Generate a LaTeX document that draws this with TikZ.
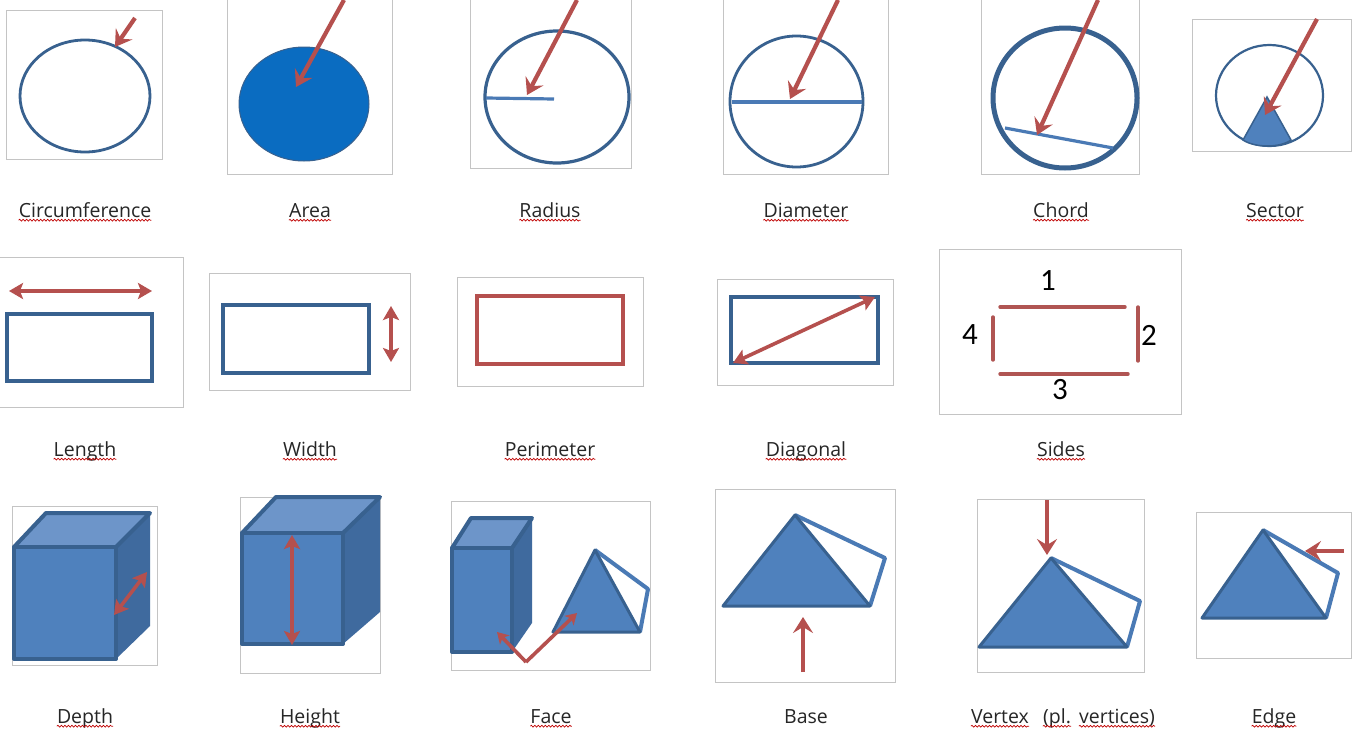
\documentclass[tikz,border=0pt]{standalone}
\usepackage{fontspec}
\newfontfamily\termfont{Open Sans}
\newfontfamily\digitfont{Carlito}
\usepackage{tikz}
\usetikzlibrary{arrows.meta,decorations.pathmorphing}
\definecolor{ringblue}{HTML}{38618F}
\definecolor{solidblue}{HTML}{4F81BD}
\definecolor{topblue}{HTML}{6D95C9}
\definecolor{sideblue}{HTML}{3F6A9E}
\definecolor{edgeblue}{HTML}{4A7AB5}
\definecolor{areablue}{HTML}{0A6CC1}
\definecolor{arrowred}{HTML}{B5504E}
\definecolor{framegray}{HTML}{C4C4C4}
\tikzset{
    framebox/.style={draw=framegray, line width=1pt},
    ring/.style={draw=ringblue, line width=2.8pt},
    plate/.style={draw=ringblue, line width=3.8pt},
    sideline/.style={draw=arrowred!90!gray, line width=3.4pt},
    pointer/.style={draw=arrowred, line width=4.2pt, -{Stealth[length=16pt,width=20pt,inset=6pt]}},
    twoway/.style={draw=arrowred, line width=3.6pt, {Stealth[length=14pt,width=16pt,inset=3pt]}-{Stealth[length=14pt,width=16pt,inset=3pt]}},
    smallway/.style={draw=arrowred, line width=3.6pt, -{Stealth[length=11pt,width=13pt,inset=3pt]}},
    term/.style={font=\termfont\fontsize{19.5}{22}\selectfont, text=black!85, inner sep=0pt, anchor=base, text depth=0pt},
    digit/.style={font=\digitfont\fontsize{31}{34}\selectfont, inner sep=0pt},
    squiggle/.style={draw=red!75!black, line width=0.7pt, decorate, decoration={snake,amplitude=0.9pt,segment length=3.5pt}}
}

\begin{document}
\begin{tikzpicture}[x=1pt, y=-1pt, >=Stealth]
\clip (0,0) rectangle (1356,731);
\fill[white] (0,0) rectangle (1356,731);

% Frames
\foreach \xa/\ya/\xb/\yb in {6/10/162/159, 227/-5/392/174, 470/-5/631/168, 723/-5/888/174, 981/-5/1139/174, 1192/19/1351/151,
    -5/257/183/407, 209/273/410/390, 457/277/643/386, 717/279/893/385, 939/249/1181/414,
    12/506/157/665, 240/497/380/673, 451/501/650/670, 715/489/895/682, 977/499/1144/672, 1196/512/1351/658}
    \draw[framebox] (\xa,\ya) rectangle (\xb,\yb);

% Circles
\draw[ring] (85,96) ellipse [x radius=65, y radius=56];
\draw[draw=ringblue, fill=areablue, line width=1pt] (304,104) ellipse [x radius=65, y radius=57];
\draw[ring, line width=3.2pt] (557,97) ellipse [x radius=72, y radius=66];
\draw[ring] (796.5,101.5) ellipse [x radius=66.5, y radius=65.5];
\draw[ring, line width=5pt] (1065,98) ellipse [x radius=72, y radius=70];
\draw[ring, line width=2.2pt] (1269.5,95.5) ellipse [x radius=53.5, y radius=50.5];
\draw[edgeblue, line width=3.2pt] (486,98) -- (554,99);
\draw[edgeblue, line width=3.2pt] (732,102) -- (862,102);
\draw[edgeblue, line width=3.2pt] (1005,128) -- (1113,148);
\draw[draw=ringblue, fill=solidblue, line width=1.5pt] (1267,97) -- (1243,140) .. controls (1255,148) and (1280,148) .. (1291,140) -- cycle;

% Rectangles
\draw[plate] (7,314) rectangle (152,381);
\draw[plate] (223,305) rectangle (369,373);
\draw[plate, draw=arrowred] (477,296) rectangle (623,364);
\draw[plate] (731,297) rectangle (878,363);

% Sides
\draw[sideline, line cap=round] (1000,307) -- (1125,307);
\draw[sideline, line cap=round] (1138,307) -- (1138,361);
\draw[sideline, line cap=round] (1000,374) -- (1128,374);
\draw[sideline, line cap=round] (993,317) -- (993,360);
\node[digit] (one) at (1048,281) {1};
\node[digit] (two) at (1149,335) {2};
\node[digit] (three) at (1060,390) {3};
\node[digit] (four) at (970,335) {4};

% Cubes
\foreach \xa/\ya/\xb/\yb/\xc/\xd/\yc/\yd in {14/547/116/659/46/150/513/626, 242/533/343/644/276/380/497/612, 452/548/512/652/471/532/518/623} {
    \fill[sideblue] (\xb,\ya) -- (\xd,\yc) -- (\xd,\yd) -- (\xb,\yb) -- cycle;
    \draw[draw=ringblue, fill=topblue, line width=4pt, line join=round] (\xa,\ya) -- (\xc,\yc) -- (\xd,\yc) -- (\xb,\ya) -- cycle;
    \draw[draw=ringblue, fill=solidblue, line width=4pt, line join=round] (\xa,\ya) rectangle (\xb,\yb);
}

% Pyramids
\foreach \xa/\ya/\xl/\xr/\yb/\xk/\yk in {595/550/553/640/632/648/589, 795/515/723/870/606/885/558, 1051/558/979/1127/647/1140/601, 1263/530/1202/1326/618/1338/573} {
    \draw[edgeblue, line width=4pt, line join=round] (\xa,\ya) -- (\xk,\yk) -- (\xr,\yb);
    \draw[draw=ringblue, fill=solidblue, line width=3pt, line join=round] (\xa,\ya) -- (\xl,\yb) -- (\xr,\yb) -- cycle;
}

% Arrows
\draw[pointer] (135,18) -- (115,47);
\draw[pointer] (344,0) -- (296,87);
\draw[pointer] (577,0) -- (527,95);
\draw[pointer] (838,0) -- (790,99);
\draw[pointer] (1098,0) -- (1037,135);
\draw[pointer] (1317,19) -- (1265,115);
\draw[twoway] (9,291) -- (152,291);
\draw[twoway] (391,306) -- (391,362);
\draw[twoway] (875,297) -- (733,363);
\draw[twoway] (114,615) -- (147,572);
\draw[twoway] (292,535) -- (292,645);
\draw[smallway] (526,662) -- (497,632);
\draw[smallway] (526,662) -- (577,613);
\draw[pointer] (803,672) -- (803,617);
\draw[pointer] (1047,500) -- (1047,555);
\draw[pointer] (1344,551) -- (1305,551);

% Names
\foreach \tname/\tx/\ty/\ttext in {circ/85/217/Circumference, area/310/217/Area, radius/550/217/Radius, diam/806/217/Diameter, chord/1061/217/Chord, sector/1275/217/Sector,
    length/85/456/Length, width/310/456/Width, perim/550/456/Perimeter, diag/806/456/Diagonal, sides/1061/456/Sides,
    depth/85/723/Depth, height/310/723/Height, face/551/723/Face, edge/1274/723/Edge,
    vertex/1000/723/Vertex, pl/1057/723/(pl., verts/1117/723/vertices)} {
    \node[term] (\tname) at (\tx,\ty) {\ttext};
    \draw[squiggle] ([yshift=-3pt]\tname.south west) -- ([yshift=-3pt]\tname.south east);
}
\node[term] (base) at (806,723) {Base};

\end{tikzpicture}
\end{document}
